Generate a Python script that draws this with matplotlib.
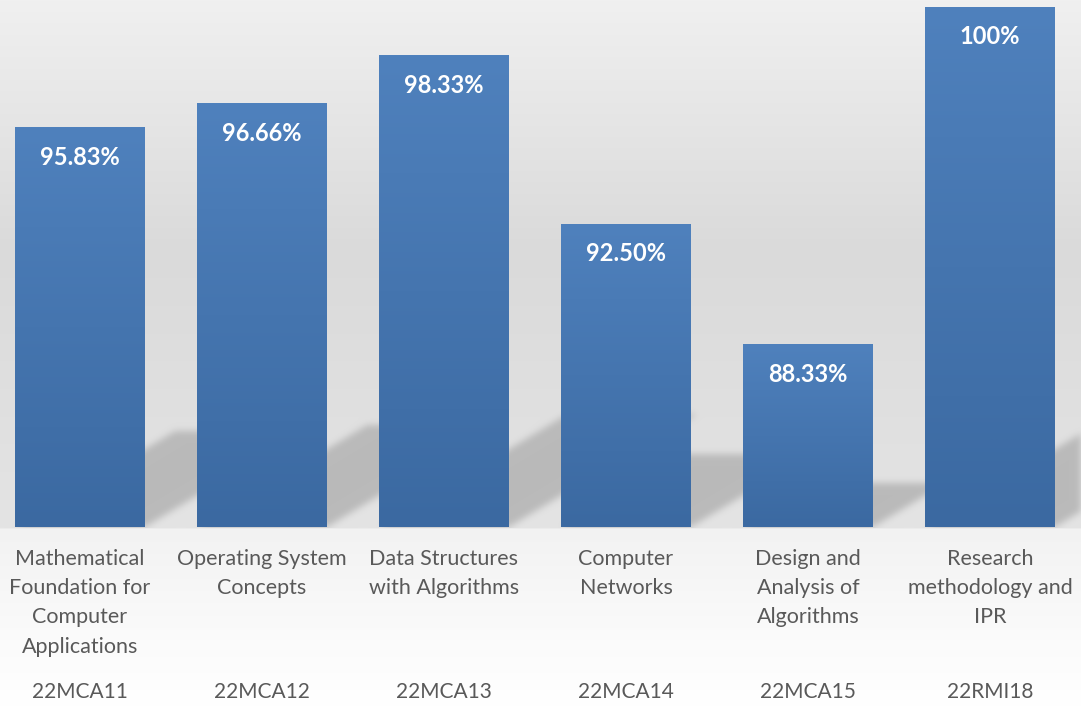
import numpy as np
import matplotlib
matplotlib.use("Agg")
import matplotlib.pyplot as plt
from matplotlib.path import Path
from matplotlib.colors import LinearSegmentedColormap

plt.rcParams["font.family"] = ["Lato", "DejaVu Sans"]

# --- data ---
subjects = [
    "Mathematical\nFoundation for\nComputer\nApplications",
    "Operating System\nConcepts",
    "Data Structures\nwith Algorithms",
    "Computer\nNetworks",
    "Design and\nAnalysis of\nAlgorithms",
    "Research\nmethodology and\nIPR",
]
codes = ["22MCA11", "22MCA12", "22MCA13", "22MCA14", "22MCA15", "22RMI18"]
pass_pct = [95.83, 96.66, 98.33, 92.50, 88.33, 100.0]
value_labels = ["95.83%", "96.66%", "98.33%", "92.50%", "88.33%", "100%"]

W, H = 1081, 706
fig = plt.figure(figsize=(W / 100, H / 100), dpi=100)

base_px = 527  # bar baseline, pixel row from top
ax = fig.add_axes([-11 / W, (H - base_px) / H, (W + 11) / W, base_px / H])
ax.set_xlim(-0.5, 5.5)
ax.set_ylim(82, 100.24)
ax.axis("off")
ax.patch.set_alpha(0)

x = np.arange(len(pass_pct))
width = 0.714
bars = ax.bar(x, np.array(pass_pct) - 82, bottom=82, width=width,
              color="#4675B0", zorder=2)

# vertical gradient on each bar
bar_cmap = LinearSegmentedColormap.from_list("barg", ["#3B69A1", "#4F81BD"])
grad = np.linspace(0, 1, 256).reshape(-1, 1)
for b in bars:
    x0, y0 = b.get_x(), b.get_y()
    im = ax.imshow(grad, cmap=bar_cmap, aspect="auto", origin="lower",
                   extent=[x0, x0 + b.get_width(), y0, y0 + b.get_height()],
                   zorder=3)
    im.set_clip_path(b)
ax.set_xlim(-0.5, 5.5)
ax.set_ylim(82, 100.24)

# --- background with soft perspective shadows ---
rows = np.arange(H, dtype=float)
bg = np.interp(rows, [0, 250, base_px, base_px + 2, 640, H],
               [0xF0, 0xDA, 0xE4, 0xF2, 0xFB, 0xFF]) / 255.0
bg = np.repeat(bg[:, None], W, axis=1)

yy, xx = np.mgrid[0:H, 0:W]
pts = np.column_stack([xx.ravel() + 0.5, yy.ravel() + 0.5])
mask = np.zeros(H * W)
k_up, k_shift = 0.24, 0.40
for b in bars:
    (xl, yb), (xr, yt) = ax.transData.transform(
        [(b.get_x(), b.get_y()), (b.get_x() + b.get_width(), b.get_y() + b.get_height())])
    rb, rt = H - yb, H - yt
    hpx = rb - rt
    poly = Path([(xl, rb), (xr, rb), (xr + k_shift * hpx, rb - k_up * hpx),
                 (xl + k_shift * hpx, rb - k_up * hpx)])
    mask = np.maximum(mask, poly.contains_points(pts))
mask = mask.reshape(H, W)

sig = 3.5
kx = np.arange(-12, 13)
kern = np.exp(-kx ** 2 / (2 * sig ** 2))
kern /= kern.sum()
mask = np.apply_along_axis(lambda r: np.convolve(r, kern, mode="same"), 1, mask)
mask = np.apply_along_axis(lambda c: np.convolve(c, kern, mode="same"), 0, mask)
mask[base_px + 1:, :] = 0

img = bg * (1 - mask) + (0xBA / 255.0) * mask
bg_ax = fig.add_axes([0, 0, 1, 1], zorder=-1)
bg_ax.imshow(np.dstack([img] * 3), aspect="auto", extent=[0, W, H, 0])
bg_ax.axis("off")

# --- labels ---
for xi, v, lab in zip(x, pass_pct, value_labels):
    ax.annotate(lab, (xi, v), xytext=(0, -21.6), textcoords="offset points",
                ha="center", va="center", color="white", fontsize=17,
                fontweight="bold", zorder=5)

for xi, name, code in zip(x, subjects, codes):
    ax.annotate(name, (xi, 0), xycoords=("data", "axes fraction"),
                xytext=(0, -15.6), textcoords="offset points",
                ha="center", va="top", color="#595959", fontsize=15.5,
                linespacing=1.58, annotation_clip=False)
    ax.annotate(code, (xi, 0), xycoords=("data", "axes fraction"),
                xytext=(0, -119), textcoords="offset points",
                ha="center", va="center", color="#595959", fontsize=15,
                annotation_clip=False)

fig.savefig("out.png", dpi=100)
